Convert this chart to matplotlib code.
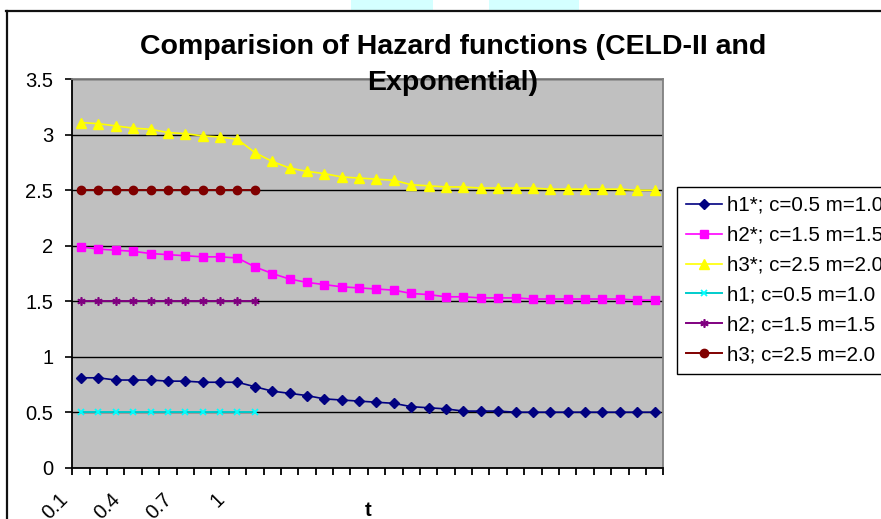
import numpy as np
import matplotlib
matplotlib.use("Agg")
import matplotlib.pyplot as plt
import matplotlib.transforms as mtransforms
from matplotlib.lines import Line2D
from matplotlib.patches import Rectangle

# ---------------- data ----------------
t_labels = ["0.1", "0.2", "0.3", "0.4", "0.5", "0.6", "0.7", "0.8", "0.9", "1"] + [""] * 24

h1_star = [0.81, 0.81, 0.79, 0.79, 0.79, 0.78, 0.78, 0.77, 0.77, 0.77,
           0.73, 0.69, 0.67, 0.65, 0.62, 0.61, 0.60, 0.59, 0.58, 0.55,
           0.54, 0.53, 0.51, 0.51, 0.51, 0.50, 0.50, 0.50, 0.50, 0.50,
           0.50, 0.50, 0.50, 0.50]
h2_star = [1.99, 1.97, 1.96, 1.95, 1.93, 1.92, 1.91, 1.90, 1.90, 1.89,
           1.81, 1.75, 1.70, 1.67, 1.65, 1.63, 1.62, 1.61, 1.60, 1.57,
           1.56, 1.54, 1.54, 1.53, 1.53, 1.53, 1.52, 1.52, 1.52, 1.52,
           1.52, 1.52, 1.51, 1.51]
h3_star = [3.11, 3.10, 3.08, 3.06, 3.05, 3.02, 3.01, 2.99, 2.98, 2.96,
           2.84, 2.76, 2.70, 2.67, 2.65, 2.62, 2.61, 2.60, 2.59, 2.55,
           2.54, 2.53, 2.53, 2.52, 2.52, 2.52, 2.52, 2.51, 2.51, 2.51,
           2.51, 2.51, 2.50, 2.50]
h1 = [0.5] * 11
h2 = [1.5] * 11
h3 = [2.5] * 11

series_labels = ["h1*; c=0.5 m=1.0", "h2*; c=1.5 m=1.5", "h3*; c=2.5 m=2.0",
                 "h1; c=0.5 m=1.0", "h2; c=1.5 m=1.5", "h3; c=2.5 m=2.0"]
y_ticks = [0, 0.5, 1, 1.5, 2, 2.5, 3, 3.5]
y_ticklabels = ["0", "0.5", "1", "1.5", "2", "2.5", "3", "3.5"]
title = "Comparision of Hazard functions (CELD-II and\nExponential)"

# ---------------- figure ----------------
plt.rcParams["font.family"] = ["Liberation Sans", "DejaVu Sans"]
W, H = 881, 519
fig = plt.figure(figsize=(W / 100, H / 100), dpi=100)

# outer chart border + watermark bits
fig.add_artist(Rectangle((351 / W, 1 - 10 / H), 82 / W, 10 / H, transform=fig.transFigure,
                         facecolor="#d4ffff", edgecolor="none"))
fig.add_artist(Rectangle((489 / W, 1 - 10 / H), 90 / W, 10 / H, transform=fig.transFigure,
                         facecolor="#d4ffff", edgecolor="none"))
fig.add_artist(Line2D([6 / W, 1.0], [1 - 10.7 / H, 1 - 10.7 / H], transform=fig.transFigure,
                      color="#111111", lw=1.6))
fig.add_artist(Line2D([7 / W, 7 / W], [1 - 10.7 / H, 0], transform=fig.transFigure,
                      color="#111111", lw=1.6))

ax = fig.add_axes([72.3 / W, 1 - 467.7 / H, (663.3 - 72.3) / W, (467.7 - 79.3) / H])
ax.set_facecolor("#C0C0C0")

x_all = np.arange(len(h1_star))
x_short = np.arange(len(h1))

ax.plot(x_all, h1_star, color="#000080", marker="D", ms=4.8, lw=1.2, label=series_labels[0])
ax.plot(x_all, h2_star, color="#FF00FF", marker="s", ms=6.0, lw=1.2, label=series_labels[1])
ax.plot(x_all, h3_star, color="#FFFF00", marker="^", ms=7.0, lw=1.2, label=series_labels[2])
ax.plot(x_short, h1, color="#00CCCC", marker="x", ms=4.5, mew=1.3, lw=1.4,
        mec="#00FFFF", label=series_labels[3])
ax.plot(x_short, h2, color="#800080", marker=(6, 2, 0), ms=6, mew=1.2, lw=1.4,
        label=series_labels[4])
ax.plot(x_short, h3, color="#800000", marker="o", ms=6.0, lw=1.4, label=series_labels[5])

ax.set_xlim(-0.5, len(h1_star) - 0.5)
ax.set_ylim(0, 3.5)
ax.set_yticks(y_ticks)
ax.set_yticklabels(y_ticklabels)
ax.set_xticks(np.arange(-0.5, len(h1_star), 1.0))
ax.set_xticklabels([])
ax.yaxis.grid(True, color="black", lw=1.0)
ax.set_axisbelow(True)

ax.tick_params(axis="y", direction="out", length=5.3, width=1.2, labelsize=14.5, pad=8.4,
               colors="black")
ax.tick_params(axis="x", direction="out", length=5.0, width=1.3, colors="black")

for side in ["top", "right"]:
    ax.spines[side].set_color("#808080")
    ax.spines[side].set_linewidth(1.3)
for side in ["left", "bottom"]:
    ax.spines[side].set_color("black")
    ax.spines[side].set_linewidth(1.3)

# category labels, every third, rotated
trans = mtransforms.blended_transform_factory(ax.transData, ax.transAxes)
offset = mtransforms.ScaledTranslation(-16 / 100, -29 / 100, fig.dpi_scale_trans)
for i in range(0, len(t_labels), 3):
    if t_labels[i]:
        ax.text(i, 0, t_labels[i], transform=trans + offset, rotation=45,
                rotation_mode="anchor", ha="right", va="center", fontsize=14.5)

fig.text(367.8 / W, 1 - 511 / H, "t", ha="center", va="center", fontsize=14.5,
         fontweight="bold")

fig.text(453 / W, 1 - 65 / H, title, ha="center", va="center", fontsize=20.5,
         fontweight="bold", linespacing=1.45)

handles, labels = ax.get_legend_handles_labels()
leg = fig.legend(handles, labels, loc="upper left",
                 bbox_to_anchor=(676.7 / W, 1 - 186.7 / H),
                 fontsize=14.8, frameon=True, fancybox=False, shadow=False,
                 edgecolor="black", framealpha=1, facecolor="white",
                 borderpad=0.45, labelspacing=0.53, handlelength=1.75,
                 handletextpad=0.25, borderaxespad=0)
leg.get_frame().set_linewidth(1.0)

fig.savefig("out.png", dpi=100)
